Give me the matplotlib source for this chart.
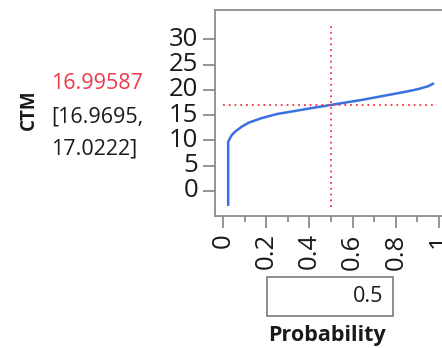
import matplotlib
matplotlib.use("Agg")
import matplotlib.pyplot as plt
from matplotlib.patches import Rectangle
from matplotlib.ticker import MultipleLocator

plt.rcParams['font.family'] = ['Open Sans', 'DejaVu Sans']

# Data (quantile curve of CTM vs probability)
prob = [0.024, 0.024, 0.04, 0.056, 0.087, 0.12, 0.18, 0.25, 0.333, 0.40, 0.45,
        0.50, 0.55, 0.60, 0.65, 0.70, 0.75, 0.80, 0.85, 0.90, 0.95, 0.977]
ctm = [-3.0, 9.7, 11.0, 11.7, 12.7, 13.5, 14.4, 15.2, 15.8, 16.3, 16.65,
       17.0, 17.35, 17.7, 18.05, 18.45, 18.85, 19.25, 19.65, 20.1, 20.7, 21.3]
sel_prob = 0.5
sel_ctm = 16.99587
ci_low, ci_high = 16.9695, 17.0222
yticks = [0, 5, 10, 15, 20, 25, 30]
xticks = [0, 0.2, 0.4, 0.6, 0.8, 1]
xticklabels = ['0', '0.2', '0.4', '0.6', '0.8', '1']

W, H = 442, 348
fig = plt.figure(figsize=(W / 100, H / 100), dpi=100)

# axes in pixel coords: left 215, top 10, bottom 216, right ~447 (clipped)
x0, x1 = 215, 447
y_top, y_bot = 10, 216
ax = fig.add_axes([x0 / W, 1 - y_bot / H, (x1 - x0) / W, (y_bot - y_top) / H])

ax.plot(prob, ctm, color='#3a6fe0', lw=1.8, solid_capstyle='butt')
ax.plot([0, 0.99], [sel_ctm, sel_ctm], color='#f0384a', lw=1.3, ls=(0, (1, 2.2)))
ax.plot([sel_prob, sel_prob], [-3.2, 33.2], color='#f0384a', lw=1.3, ls=(0, (1, 2.2)))

ax.set_xlim(-0.037, 1.037)
ax.set_ylim(-5.0, 35.8)
ax.set_yticks(yticks)
ax.set_xticks(xticks)
ax.set_xticklabels(xticklabels, rotation=90)
ax.xaxis.set_minor_locator(MultipleLocator(0.1))

gray = '#8c8c8c'
for s in ax.spines.values():
    s.set_color(gray)
    s.set_linewidth(1.3)
ax.tick_params(axis='both', which='major', color=gray, width=1.3, length=8.5,
               labelsize=18.5, labelcolor='#1a1a1a', pad=4)
ax.tick_params(axis='x', which='minor', color=gray, width=1.3, length=4.5)
ax.tick_params(axis='y', pad=3.5)
for lab in ax.get_yticklabels():
    lab.set_verticalalignment('center')

# Left side texts
fig.text(29 / W, 1 - 110 / H, 'CTM', rotation=90, ha='center', va='center',
         fontsize=13.5, fontweight='bold', color='#1a1a1a')
fig.text(51 / W, 1 - 89 / H, f'{sel_ctm:.5f}', ha='left', va='baseline',
         fontsize=15.5, color='#f0384a')
fig.text(51 / W, 1 - 122 / H, f'[{ci_low:.4f},', ha='left', va='baseline',
         fontsize=15.5, color='#1a1a1a')
fig.text(51 / W, 1 - 155 / H, f'{ci_high:.4f}]', ha='left', va='baseline',
         fontsize=15.5, color='#1a1a1a')

# Input box with 0.5
bx0, bx1, by0, by1 = 267, 393, 277, 316
fig.patches.append(Rectangle((bx0 / W, 1 - by1 / H), (bx1 - bx0) / W, (by1 - by0) / H,
                             transform=fig.transFigure, fill=False,
                             edgecolor='#7a7a7a', lw=1.2))
fig.text(383 / W, 1 - 302 / H, f'{sel_prob}', ha='right', va='baseline',
         fontsize=15.5, color='#1a1a1a')
fig.text(327 / W, 1 - 336 / H, 'Probability', ha='center', va='center',
         fontsize=15.5, fontweight='bold', color='#1a1a1a')

fig.savefig('out.png', dpi=100)
